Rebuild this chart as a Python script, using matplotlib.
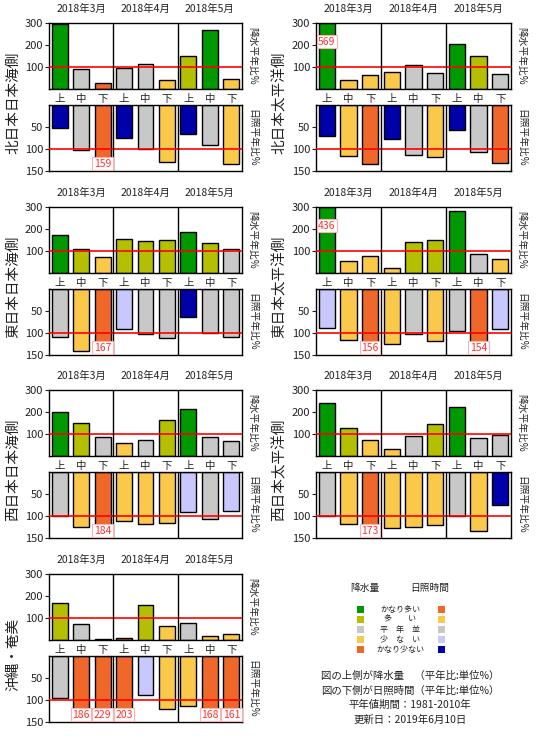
import matplotlib
matplotlib.use('Agg')
import matplotlib.pyplot as plt

plt.rcParams['font.family'] = ['Noto Sans CJK JP', 'DejaVu Sans']

# data
regions = ['北日本日本海側', '北日本太平洋側', '東日本日本海側', '東日本太平洋側',
           '西日本日本海側', '西日本太平洋側', '沖縄・奄美']
months = ['2018年3月', '2018年4月', '2018年5月']
junjun = ['上', '中', '下'] * 3

# precipitation ratio (%) and class (0=かなり多い ... 4=かなり少ない)
rain_vals = [
    [296, 91, 27, 97, 112, 41, 150, 268, 45],
    [569, 41, 64, 77, 109, 73, 206, 150, 68],
    [175, 109, 72, 155, 146, 151, 185, 138, 109],
    [436, 55, 78, 23, 143, 148, 281, 88, 65],
    [201, 148, 85, 58, 71, 162, 212, 85, 67],
    [239, 129, 71, 30, 89, 144, 221, 80, 94],
    [166, 74, 5, 9, 157, 65, 78, 18, 28],
]
rain_cls = [
    [0, 2, 4, 2, 2, 3, 1, 0, 3],
    [0, 3, 3, 3, 2, 2, 0, 1, 2],
    [0, 1, 3, 1, 1, 1, 0, 1, 2],
    [0, 3, 3, 3, 1, 1, 0, 2, 3],
    [0, 1, 2, 3, 2, 1, 0, 2, 2],
    [0, 1, 3, 3, 2, 1, 0, 2, 2],
    [1, 2, 4, 4, 1, 3, 2, 3, 3],
]
# sunshine ratio (%) and class
sun_vals = [
    [53, 102, 159, 74, 100, 130, 65, 90, 134],
    [70, 116, 134, 77, 114, 118, 56, 107, 132],
    [110, 142, 167, 91, 103, 112, 64, 100, 110],
    [89, 116, 156, 126, 103, 119, 96, 154, 91],
    [100, 126, 184, 112, 119, 117, 91, 107, 89],
    [100, 119, 173, 128, 126, 121, 100, 133, 75],
    [95, 186, 229, 203, 89, 121, 114, 168, 161],
]
sun_cls = [
    [4, 2, 0, 4, 2, 1, 4, 2, 1],
    [4, 1, 0, 4, 2, 1, 4, 2, 0],
    [2, 1, 0, 3, 2, 2, 4, 2, 2],
    [3, 1, 0, 1, 2, 1, 2, 0, 3],
    [2, 1, 0, 1, 1, 1, 3, 2, 3],
    [2, 1, 0, 1, 1, 1, 2, 1, 4],
    [2, 0, 0, 0, 3, 1, 1, 0, 0],
]

legend_names = ['かなり多い', '多　　い', '平　年　並', '少　な　い', 'かなり少ない']
rain_colors = ['#009900', '#b3bf00', '#c8c8c8', '#fac84a', '#f0672a']
sun_colors = ['#f0672a', '#fac84a', '#c8c8c8', '#c8c8ff', '#0000aa']

W, H = 550, 750
fig = plt.figure(figsize=(5.5, 7.5), dpi=100)

col_x = [49, 316]
col_w = [193, 195]
row_top = [23, 207, 390, 574]
ax_h = 66
gap = 82
tc = '#222222'
lab_box = dict(boxstyle='square,pad=0.15', fc='white', ec='#ffb0b0', lw=0.8)


def draw_panel(k):
    r, c = k // 2, k % 2
    x0 = col_x[c] / W
    w = col_w[c] / W
    t = row_top[r]
    ax2 = fig.add_axes([x0, 1 - (t + gap + ax_h) / H, w, ax_h / H])
    ax1 = fig.add_axes([x0, 1 - (t + ax_h) / H, w, ax_h / H])
    ax2.patch.set_visible(False)
    xs = list(range(9))

    # precipitation (top)
    ax1.bar(xs, [min(v, 300) for v in rain_vals[k]], width=0.74,
            color=[rain_colors[i] for i in rain_cls[k]], edgecolor='black', lw=1, zorder=2)
    ax1.axhline(100, color='red', lw=1.2, zorder=3)
    ax1.set_ylim(0, 300)
    ax1.set_yticks([100, 200, 300])
    for v, x in zip(rain_vals[k], xs):
        if v > 300:
            ax1.text(x, 215, str(v), color='#ff3333', fontsize=7.5, ha='center', va='center',
                     bbox=lab_box, zorder=5)
    ax1.set_xticks(xs)
    ax1.set_xticklabels(junjun, fontsize=7.5, color=tc)
    for lb in ax1.get_xticklabels():
        lb.set_va('center')
    ax1.tick_params(axis='x', length=0, pad=7)
    for i, m in enumerate(months):
        ax1.text(1 + 3 * i, 1.13, m, transform=ax1.get_xaxis_transform(), fontsize=7.5,
                 ha='center', va='bottom', color=tc)

    # sunshine (bottom)
    ax2.bar(xs, [min(v, 150) for v in sun_vals[k]], width=0.74,
            color=[sun_colors[i] for i in sun_cls[k]], edgecolor='black', lw=1, zorder=2)
    ax2.axhline(100, color='red', lw=1.2, zorder=3)
    ax2.set_ylim(150, 0)
    ax2.set_yticks([50, 100, 150])
    ax2.set_xticks([])
    for v, x in zip(sun_vals[k], xs):
        if v > 150:
            ax2.text(x, 133, str(v), color='#ff3333', fontsize=7.5, ha='center', va='center',
                     bbox=lab_box, zorder=5)

    for ax in (ax1, ax2):
        ax.set_xlim(-0.5, 8.5)
        ax.axvline(2.5, color='black', lw=1, zorder=4)
        ax.axvline(5.5, color='black', lw=1, zorder=4)
        ax.tick_params(axis='y', labelsize=8, colors=tc, length=3, pad=1)
        for s in ax.spines.values():
            s.set_linewidth(1)

    xr = (col_x[c] + col_w[c] + 10) / W
    fig.text(xr, 1 - (t + ax_h / 2) / H, '降水平年比%', rotation=270, fontsize=7,
             ha='center', va='center', color=tc)
    fig.text(xr, 1 - (t + gap + ax_h / 2) / H, '日照平年比%', rotation=270, fontsize=7,
             ha='center', va='center', color=tc)
    xl = (col_x[c] - 36) / W
    fig.text(xl, 1 - (t + 80) / H, regions[k], rotation=90, fontsize=10.5,
             ha='center', va='center', color=tc)


for k in range(len(regions)):
    draw_panel(k)

# legend block
fig.text(365 / W, 1 - 588 / H, '降水量', fontsize=7, ha='center', va='center', color=tc)
fig.text(430 / W, 1 - 588 / H, '日照時間', fontsize=7, ha='center', va='center', color=tc)
for i, name in enumerate(legend_names):
    y = 1 - (609.5 + 10 * i) / H
    fig.patches.append(plt.Rectangle((357 / W, y - 3.5 / H), 7 / W, 7 / H,
                                     transform=fig.transFigure, fc=rain_colors[i], ec='none'))
    fig.patches.append(plt.Rectangle((437.5 / W, y - 3.5 / H), 7 / W, 7 / H,
                                     transform=fig.transFigure, fc=sun_colors[i], ec='none'))
    fig.text(400 / W, y, name, fontsize=5.8, ha='center', va='center', color=tc)

notes = ['図の上側が降水量　（平年比:単位%）', '図の下側が日照時間（平年比:単位%）',
         '平年値期間：1981-2010年', '更新日：2019年6月10日']
for i, s in enumerate(notes):
    fig.text(410 / W, 1 - (676 + 14.5 * i) / H, s, fontsize=7.5, ha='center', va='center', color=tc)

fig.savefig('out.png', dpi=100)
